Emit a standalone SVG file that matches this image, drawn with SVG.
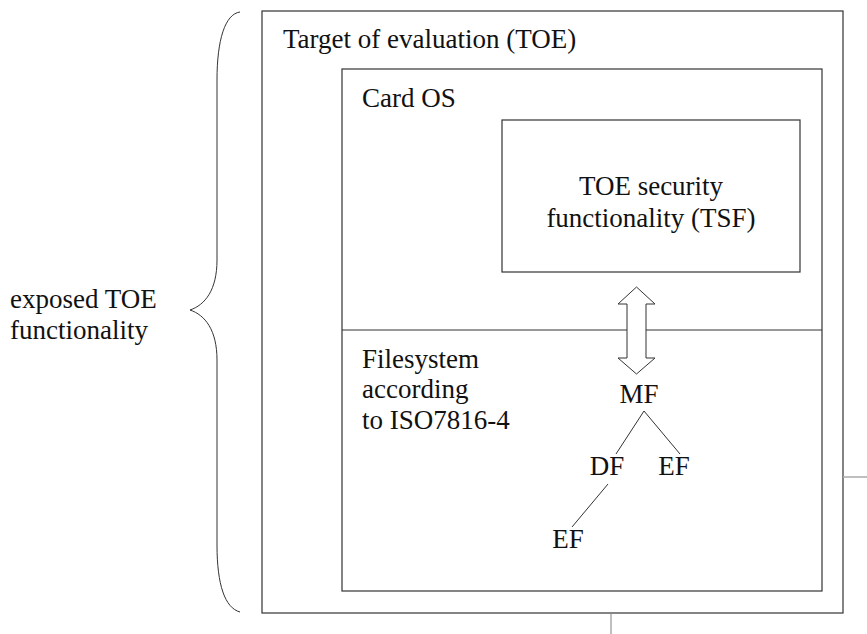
<svg xmlns="http://www.w3.org/2000/svg" width="867" height="634" viewBox="0 0 867 634">
<style>
.box{fill:none;stroke:#333;stroke-width:1.2}
.t{font-family:"Liberation Serif","DejaVu Serif",serif;font-size:27px;fill:#111}
.c{text-anchor:middle}
.ln{stroke:#333;stroke-width:1;fill:none}
.gray{stroke:#aaa;stroke-width:1.5;fill:none}
</style>
<rect width="867" height="634" fill="#fff"/>
<g id="brace">
<path class="ln" d="M240,12 C225,14 217,40 217,80 L217,260 C217,290 205,305 190,310 C205,315 217,330 217,360 L217,545 C217,585 225,608 240,612"/>
<text class="t" x="10" y="308">exposed TOE</text>
<text class="t" x="10" y="339">functionality</text>
</g>
<g id="toe">
<rect class="box" x="262" y="11" width="581" height="602"/>
<text class="t" x="283" y="48">Target of evaluation (TOE)</text>
</g>
<g id="cardos">
<rect class="box" x="342" y="69" width="480" height="522"/>
<text class="t" x="362" y="107">Card OS</text>
</g>
<g id="tsf">
<rect class="box" x="502" y="120" width="298" height="152"/>
<text class="t c" x="651" y="195">TOE security</text>
<text class="t c" x="651" y="227">functionality (TSF)</text>
</g>
<g id="filesystem">
<line class="box" x1="342" y1="330" x2="822" y2="330"/>
<text class="t" x="362" y="368">Filesystem</text>
<text class="t" x="362" y="398">according</text>
<text class="t" x="362" y="429">to ISO7816-4</text>
</g>
<g id="mf"><text class="t c" x="639" y="403">MF</text></g>
<g id="df"><text class="t c" x="607" y="475">DF</text></g>
<g id="ef1"><text class="t c" x="674" y="475">EF</text></g>
<g id="ef2"><text class="t c" x="568" y="548">EF</text></g>
<g id="connectors">
<path d="M636.5,287 L655,304 L646,304 L646,358 L655,358 L636.5,374 L618,358 L627,358 L627,304 L618,304 Z" fill="#fff" stroke="#333" stroke-width="1"/>
<line class="ln" x1="644" y1="411" x2="616" y2="454"/>
<line class="ln" x1="644" y1="411" x2="680" y2="454"/>
<line class="ln" x1="608" y1="484" x2="572" y2="527"/>
<line class="gray" x1="843" y1="477" x2="867" y2="477"/>
<line class="gray" x1="611" y1="614" x2="611" y2="634"/>
</g>
</svg>
